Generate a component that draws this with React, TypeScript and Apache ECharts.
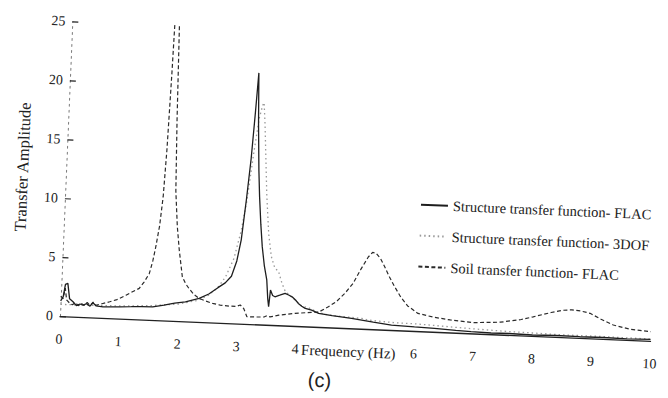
import React, { useEffect, useRef } from "react";
import * as echarts from "echarts";

// Structure transfer function - FLAC (solid)
const flacFreq = [0, 0.04, 0.07, 0.11, 0.15, 0.21, 0.27, 0.33, 0.38, 0.44, 0.5, 0.55, 0.6, 0.72, 0.85, 1.0, 1.2, 1.37, 1.56, 1.75, 1.93, 2.11, 2.34, 2.5, 2.65, 2.77, 2.87, 2.95, 3.01, 3.07, 3.12, 3.16, 3.19, 3.22, 3.26, 3.29, 3.33, 3.37, 3.42, 3.47, 3.5, 3.52, 3.54, 3.58, 3.62, 3.7, 3.79, 3.85, 3.91, 3.97, 4.02, 4.08, 4.14, 4.25, 4.37, 4.6, 4.93, 5.3, 5.61, 6.0, 6.34, 6.7, 6.96, 7.3, 7.6, 8.0, 8.4, 8.8, 9.2, 9.6, 10];
const flacAmp = [1.3, 1.64, 2.7, 2.8, 1.5, 1.26, 0.95, 1.1, 1.0, 1.15, 0.95, 1.25, 1.0, 0.94, 0.97, 1.0, 1.05, 1.1, 1.12, 1.3, 1.5, 1.66, 2.0, 2.4, 2.97, 3.4, 3.99, 5.3, 7.1, 10.6, 14, 18, 21.3, 17, 13, 10.8, 8.5, 6.6, 4.95, 3.8, 2.2, 1.53, 2.95, 2.5, 2.4, 2.55, 2.73, 2.6, 2.46, 2.2, 1.92, 1.7, 1.53, 1.4, 1.15, 1.0, 0.85, 0.6, 0.42, 0.35, 0.3, 0.2, 0.14, 0.1, 0.12, 0.08, 0.12, 0.1, 0.12, 0.08, 0.13];

// Structure transfer function - 3DOF (dotted)
const dofFreq = [0, 0.5, 1.0, 1.5, 2.0, 2.3, 2.5, 2.65, 2.77, 2.9, 3.0, 3.08, 3.16, 3.23, 3.28, 3.3, 3.33, 3.37, 3.41, 3.47, 3.53, 3.6, 3.66, 3.73, 3.79, 3.96, 4.08, 4.19, 4.35, 4.54, 4.65, 5.1, 5.21, 5.66, 6.06, 6.5, 6.9, 7.5, 8.0, 8.5, 9.0, 9.5, 10];
const dofAmp = [1.0, 1.02, 1.08, 1.2, 1.45, 1.8, 2.3, 3.0, 3.9, 5.5, 7.8, 10.5, 14.5, 17.5, 18.6, 18.8, 17, 14, 11, 7.7, 5.8, 4.8, 4.6, 3.56, 2.9, 2.2, 1.7, 1.6, 1.25, 1.04, 1.0, 0.88, 0.76, 0.63, 0.6, 0.5, 0.41, 0.3, 0.25, 0.2, 0.2, 0.18, 0.15];

// Soil transfer function - FLAC (dashed)
const soilFreq = [0, 0.04, 0.07, 0.1, 0.15, 0.2, 0.25, 0.3, 0.35, 0.4, 0.45, 0.5, 0.55, 0.6, 0.7, 0.83, 0.95, 1.1, 1.2, 1.32, 1.4, 1.48, 1.53, 1.57, 1.62, 1.66, 1.69, 1.72, 1.745, 1.78, 1.81, 1.84, 1.87, 1.92, 1.97, 2.04, 2.1, 2.16, 2.25, 2.34, 2.45, 2.57, 2.7, 2.85, 2.97, 3.04, 3.1, 3.16, 3.3, 3.45, 3.5, 3.55, 3.7, 3.97, 4.25, 4.37, 4.53, 4.66, 4.8, 4.93, 5.05, 5.17, 5.24, 5.3, 5.38, 5.45, 5.54, 5.63, 5.75, 5.87, 6.05, 6.3, 6.6, 7.0, 7.45, 7.8, 8.0, 8.3, 8.5, 8.65, 8.8, 8.96, 9.15, 9.36, 9.65, 10];
const soilAmp = [1.7, 1.5, 2.4, 1.4, 1.15, 1.0, 1.2, 0.95, 1.15, 1.0, 1.25, 1.0, 1.3, 1.05, 1.2, 1.39, 1.6, 2.0, 2.3, 2.63, 3.2, 3.93, 5.0, 6.2, 8.0, 10.5, 14.5, 21, 28, 32, 26, 17, 11, 8, 6.0, 3.77, 3.2, 2.8, 2.3, 2.0, 1.8, 1.62, 1.5, 1.45, 1.45, 1.58, 1.3, 0.61, 0.62, 0.65, 0.78, 0.68, 0.86, 1.07, 1.21, 1.26, 1.75, 2.2, 2.94, 3.8, 5.0, 6.1, 6.5, 6.45, 6.0, 5.37, 4.5, 3.73, 2.8, 2.1, 1.5, 1.25, 1.06, 0.92, 1.05, 1.35, 1.62, 2.05, 2.28, 2.35, 2.28, 2.12, 1.65, 1.21, 0.91, 0.78];

const seriesNames = [
  "Structure transfer function- FLAC",
  "Structure transfer function- 3DOF",
  "Soil transfer function- FLAC",
];

const zip = (xs: number[], ys: number[]) => xs.map((x, i) => [x, ys[i]]);

const FONT = "'Liberation Serif', 'Times New Roman', serif";
const INK = "#222";

export default function App() {
  const ref = useRef<HTMLDivElement>(null);
  useEffect(() => {
    if (!ref.current) return;
    const chart = echarts.init(ref.current, undefined, { renderer: "svg" });
    const legendBase = {
      orient: "horizontal" as const,
      left: 415,
      padding: 0,
      itemWidth: 27,
      itemHeight: 14,
      selectedMode: false,
      itemStyle: { opacity: 0 },
      textStyle: { fontFamily: FONT, fontSize: 14.5, color: INK },
    };
    chart.setOption({
      animation: false,
      backgroundColor: "#fff",
      textStyle: { fontFamily: FONT },
      grid: { left: 57, right: 17, top: 21, bottom: 82 },
      xAxis: {
        type: "value",
        min: 0,
        max: 10,
        interval: 1,
        axisLine: { lineStyle: { color: INK, width: 1.3 } },
        axisTick: { show: false },
        splitLine: { show: false },
        axisLabel: {
          margin: 16,
          fontSize: 14,
          color: INK,
          fontFamily: FONT,
          formatter: (v: number) => (v === 5 ? "" : String(v)),
        },
        name: "Frequency (Hz)",
        nameLocation: "middle",
        nameGap: 16,
        nameMoveOverlap: false,
        nameTextStyle: { fontSize: 15, color: INK, fontFamily: FONT, padding: [0, 12, 0, 0] },
      },
      yAxis: {
        type: "value",
        min: 0,
        max: 25,
        interval: 5,
        axisLine: { show: true, lineStyle: { color: "#777", type: [2, 4], width: 1 } },
        axisTick: { show: true, inside: true, length: 6, lineStyle: { color: INK, width: 1.2 } },
        splitLine: { show: false },
        axisLabel: { margin: 7, fontSize: 14, color: INK, fontFamily: FONT },
        name: "Transfer Amplitude",
        nameLocation: "middle",
        nameGap: 35,
        nameMoveOverlap: false,
        nameTextStyle: { fontSize: 16.5, color: INK, fontFamily: FONT },
      },
      legend: [
        { ...legendBase, top: 182, data: [seriesNames[0]] },
        { ...legendBase, top: 213, data: [seriesNames[1]] },
        { ...legendBase, top: 244, data: [seriesNames[2]] },
      ],
      graphic: [
        {
          type: "text",
          x: 322,
          y: 369,
          style: {
            text: "(c)",
            fontSize: 20,
            fontFamily: "'Liberation Sans', Arial, sans-serif",
            fill: INK,
            align: "center",
            verticalAlign: "middle",
          },
        },
      ],
      series: [
        {
          name: seriesNames[0],
          type: "line",
          symbol: "none",
          clip: true,
          data: zip(flacFreq, flacAmp),
          itemStyle: { color: "#1e1e1e" },
          lineStyle: { color: "#1e1e1e", width: 1.3, type: "solid" },
          z: 3,
        },
        {
          name: seriesNames[1],
          type: "line",
          symbol: "none",
          clip: true,
          data: zip(dofFreq, dofAmp),
          itemStyle: { color: "#9a9a9a" },
          lineStyle: { color: "#9a9a9a", width: 1.3, type: [1.5, 3] },
          z: 2,
        },
        {
          name: seriesNames[2],
          type: "line",
          symbol: "none",
          clip: true,
          data: zip(soilFreq, soilAmp),
          itemStyle: { color: "#2a2a2a" },
          lineStyle: { color: "#2a2a2a", width: 1.2, type: [4, 2.5] },
          z: 2,
        },
      ],
    });
    return () => chart.dispose();
  }, []);
  return (
    <div
      style={{
        position: "fixed",
        left: 0,
        top: 0,
        width: 668,
        height: 398,
        overflow: "hidden",
        background: "#fff",
      }}
    >
      <div
        ref={ref}
        style={{
          width: 668,
          height: 398,
          transform: "rotate(2.4deg)",
          transformOrigin: "57px 316px",
        }}
      />
    </div>
  );
}
